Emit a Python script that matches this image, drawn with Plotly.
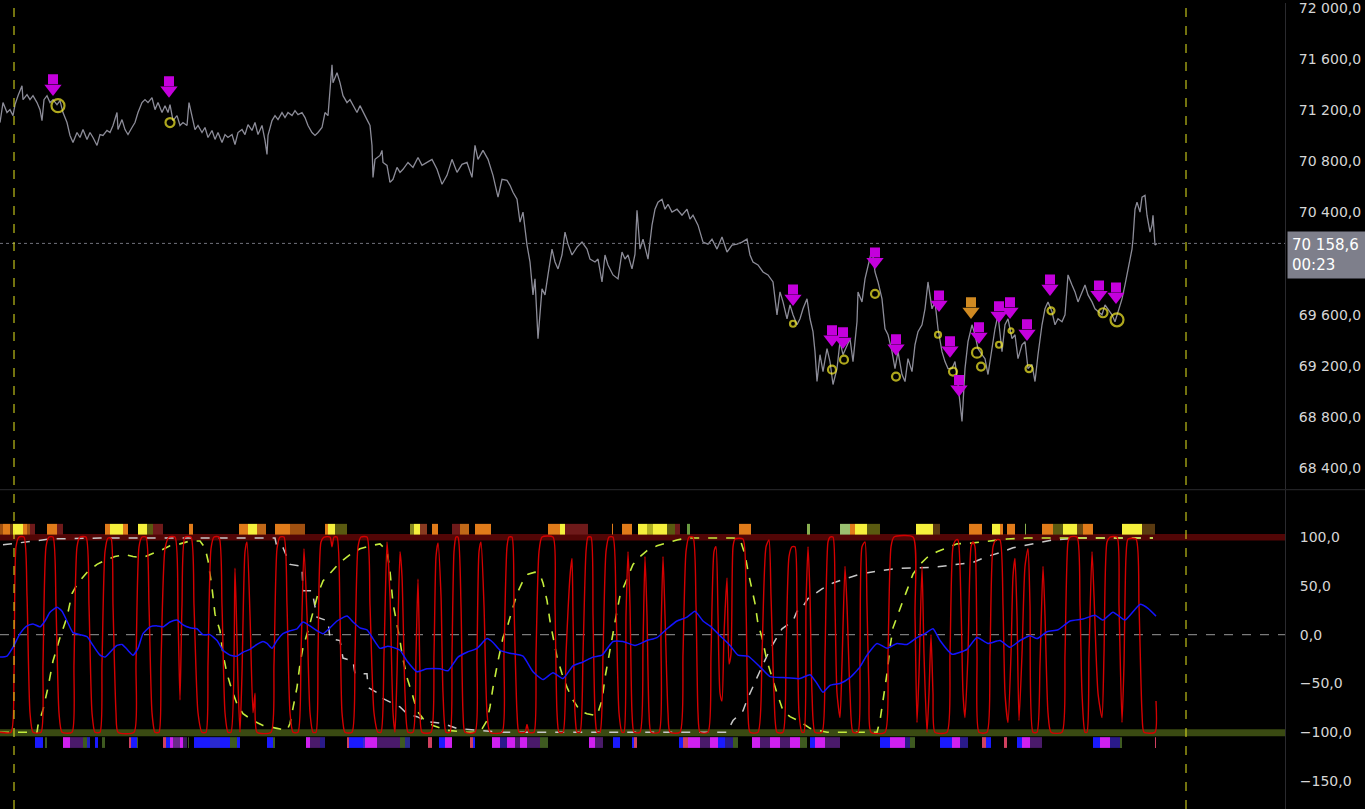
import plotly.graph_objects as go

# ---------------- price panel data ----------------
close_x = [0,3,7,10,13,15,18,22,23,27,30,33,37,40,42,44,47,50,53,57,60,63,67,70,73,77,80,83,87,90,93,97,100,103,107,110,113,117,118,122,125,128,132,135,138,142,145,148,152,155,158,162,165,168,170,173,177,180,183,187,189,192,195,198,202,205,208,212,215,218,222,225,228,232,235,238,242,245,248,252,255,258,262,265,267,268,272,275,278,282,285,288,292,295,298,302,305,308,312,315,318,322,325,328,332,333,337,340,343,347,350,
           357,360,367,370,372,373,375,380,382,383,387,390,393,397,400,403,408,413,418,422,427,432,437,442,447,452,457,462,467,472,475,478,483,488,493,498,502,507,510,513,517,520,523,527,530,533,535,538,542,545,548,552,555,558,562,565,568,572,577,582,587,590,595,598,602,605,608,613,618,622,625,628,632,635,637,640,643,648,652,655,658,662,665,668,672,677,682,687,690,693,698,703,708,712,717,722,727,732,737,742,747,750,753,758,763,768,773,777,780,783,787,790,793,797,800,
           803,807,810,813,815,817,820,823,827,830,833,837,840,843,847,850,853,857,858,862,865,868,872,875,878,882,885,888,892,895,898,902,905,908,912,915,918,922,925,928,932,935,938,942,945,948,952,955,958,962,965,968,972,975,978,982,985,988,992,995,998,1002,1005,1008,1012,1015,1018,1022,1025,1028,1032,1035,1038,1042,1045,1048,1052,1055,1058,1062,1065,1068,1072,1075,1078,1082,1085,1088,1092,1095,1098,1102,1105,1108,1112,1115,1118,1122,1125,1128,1132,1133,
           1135,1137,1140,1142,1145,1147,1148,1150,1152,1153,1155,1157]
close = [71104,71260,71182,71205,71158,71244,71314,71392,71283,71322,
         71283,71314,71260,71205,71119,71283,71314,71260,71283,71244,
         71275,71182,71104,71003,70948,71026,70987,71049,70972,71026,
         70987,70925,71010,71003,71042,71026,71081,71182,71049,71127,
         71049,71010,71065,71104,71182,71260,71283,71260,71299,71205,
         71260,71182,71236,71182,71244,71119,71158,71081,71104,71081,
         71260,71158,71049,71081,71026,71065,70987,71042,70972,71026,
         70948,71010,70987,71010,70932,71026,71049,71010,71088,71042,
         71104,71010,71081,70964,70855,71003,71119,71158,71127,71182,
         71143,71182,71158,71197,71166,71182,71143,71081,71026,71003,
         71026,71065,71182,71158,71556,71416,71494,71416,71314,71260,
         71283,
         71182,71236,71127,71081,70925,70675,70816,70847,70886,70792,
         70769,70636,70660,70753,70714,70738,70792,70753,70831,70769,
         70792,70816,70738,70621,70691,70816,70714,70777,70792,70675,
         70925,70816,70886,70816,70691,70520,70660,70652,70613,70559,
         70504,70325,70403,70146,70013,69756,69881,69413,69803,69756,
         69912,70114,70013,69959,70068,70247,70153,70068,70130,70169,
         70114,70036,70013,70036,69857,70068,69990,69912,69881,70091,
         70036,70068,69959,70075,70418,70114,70192,70036,70301,70426,
         70481,70504,70426,70465,70403,70426,70379,70426,70348,70379,
         70301,70169,70153,70192,70114,70208,70091,70146,70153,70169,
         70192,70068,70013,69990,69935,69912,69857,69600,69779,69701,
         69569,69678,69600,69522,69569,
         69647,69725,69569,69468,69312,69078,69288,69156,69335,69234,
         69055,69179,69390,69288,69366,69413,69234,69546,69779,69701,
         69881,69990,70114,69935,69857,69725,69491,69444,69312,69179,
         69312,69133,69078,69257,69156,69366,69468,69522,69647,69857,
         69647,69701,69491,69312,69234,69179,69179,69234,69055,68766,
         69179,69390,69522,69444,69335,69288,69257,69133,69335,69491,
         69600,69312,69522,69569,69413,69444,69257,69366,69390,69179,
         69211,69078,69288,69522,69647,69701,69624,69522,69569,69546,
         69600,69912,69834,69779,69701,69779,69834,69756,69701,69647,
         69624,69600,69678,69647,69600,69546,69624,69725,69834,69959,
         70114,70192,
         70426,70481,70403,70520,70535,70379,70325,70247,70301,70379,70146,70158.6]
last_price = 70158.6
last_time = "00:23"
price_ticks = [68400, 68800, 69200, 69600, 70400, 70800, 71200, 71600, 72000]
price_range = [68236, 72039]

# signal arrows (x, tip price) and circles (x, price, size)
sig_x = [53, 169, 793, 832, 843, 875, 896, 939, 950, 959, 979, 999, 1010, 1027, 1050, 1099, 1116]
sig_tip = [71314, 71299, 69670, 69351, 69335, 69958, 69281, 69623, 69265, 68961, 69374, 69538, 69569, 69397, 69748, 69701, 69686]
alt_sig_x = [971]
alt_sig_tip = [69569]
ring_x = [58, 170, 793, 832, 844, 875, 896, 938, 953, 977, 981, 999, 1011, 1029, 1051, 1103, 1117]
ring_p = [71236, 71104, 69530, 69171, 69249, 69764, 69117, 69444, 69156, 69304, 69195, 69366, 69475, 69179, 69631, 69616, 69561]
ring_size = [13, 9, 6, 8, 8, 8, 8, 6, 8, 10, 8, 6, 5, 7, 7, 9, 13]

# ---------------- oscillator data ----------------
fast_osc = [(0,-100),(11,-100),(14,-40),(16,90),(19,100),(24,100),(27,40),(30,-80),(33,-100),(41,-100),(43,-30),(46,90),(49,100),(53,100),(56,30),(59,-80),(62,-100),(72,-100),(74,-30),(77,90),(80,100),(86,100),(89,30),(92,-80),(95,-100),(100,-100),(102,-30),(105,85),(108,99),(111,99),(113,30),(116,-80),(118,-100),(134,-100),(136,-30),(139,90),(142,100),(146,100),(149,30),(152,-80),(155,-100),(159,-100),(161,-30),(165,88),(169,100),(175,100),(178,20),(180,-67),(182,30),(185,100),(191,100),(194,30),(198,-80),(202,-100),(206,-100),(208,-30),(211,88),(214,100),(219,100),(222,30),(225,-80),(228,-100),(231,-100),(235,68),(238,-50),(240,-100),(242,-40),(245,85),(247,95),(250,20),(253,-80),(255,-60),(257,-100),(271,-100),(274,-30),(277,88),(280,100),(284,100),(287,30),(290,-80),(293,-100),(298,-100),(301,-20),(304,88),(307,20),(310,-80),(313,-100),(316,-100),(318,-20),(321,95),(324,100),(330,100),(332,90),(334,100),(337,100),(340,20),(342,-80),(345,-100),(352,-100),(355,-20),(358,90),(361,100),(367,100),(370,30),(374,-80),(378,-100),(381,-100),(384,-20),(387,95),(390,40),(393,-80),(395,-100),(397,-40),(400,85),(402,60),(405,-60),(408,-100),
            (413,-100),(416,-20),(418,57),(420,-40),(422,-100),(431,-100),(434,-20),(436,80),(438,94),(441,40),(443,-60),(446,-100),(450,-100),(452,-20),(454,85),(456,100),(458,100),(461,30),(463,-80),(465,-100),(475,-100),(477,-20),(479,85),(481,95),(484,30),(487,-80),(490,-100),(502,-100),(504,-20),(507,90),(509,100),(512,100),(514,30),(517,-80),(519,-100),(525,-100),(527,-92),(529,-100),(534,-100),(536,-20),(539,85),(542,100),(553,100),(555,30),(557,-80),(559,-100),(563,-100),(566,-20),(570,60),(572,78),(573,20),(575,-80),(577,-100),(580,-100),(583,-20),(586,85),(588,100),(591,100),(593,20),(595,-80),(597,-100),(600,-100),(603,-20),(606,85),(609,100),(613,100),(616,30),(619,-80),(622,-100),(624,-100),(626,20),(628,85),(630,30),(632,-80),(634,-100),(640,-100),(643,-10),(645,80),(647,20),(649,-80),(651,-100),(659,-100),(661,0),(663,80),(665,20),(668,-80),(670,-100),(680,-100),(683,-20),(686,85),(689,100),(693,100),(696,30),(698,-80),(700,-100),(708,-100),(711,-20),(714,85),(716,90),(718,20),(720,-60),(722,-68),(724,0),(727,58),(729,-30),(731,-20),(733,90),(735,98),(743,98),(746,30),(748,-80),(750,-100),(758,-100),(762,-20),(766,90),(769,97),(771,40),(774,-60),(777,-100),(783,-100),(786,-20),(789,80),(792,90),(795,90),(797,30),(799,-80),(802,-100),
            (804,-100),(806,30),(808,90),(810,40),(812,-60),(815,-100),(822,-100),(825,-20),(828,95),(830,100),(833,100),(835,30),(837,-60),(840,-85),(842,-30),(845,70),(847,30),(850,-60),(853,-100),(858,-100),(860,-20),(862,90),(865,95),(867,30),(869,-60),(871,-100),(885,-100),(888,-20),(891,90),(894,100),(913,100),(915,20),(917,-90),(919,-40),(922,70),(924,-20),(927,-100),(929,-60),(931,0),(933,-60),(935,-100),(947,-100),(950,-20),(953,90),(956,97),(958,97),(961,30),(963,-60),(965,-85),(968,-20),(971,90),(973,95),(975,90),(977,-20),(979,-100),(987,-100),(990,-20),(993,90),(996,97),(1000,97),(1003,30),(1005,-60),(1008,-90),(1011,-20),(1013,60),(1015,78),(1017,20),(1019,-88),(1022,-20),(1025,70),(1028,88),(1030,30),(1033,-100),(1037,-100),(1040,-30),(1043,70),(1045,20),(1048,-80),(1051,-100),(1062,-100),(1065,-20),(1068,95),(1070,100),(1077,100),(1080,30),(1082,-60),(1085,-100),(1087,-100),(1089,-20),(1092,85),(1094,40),(1098,-60),(1102,-85),(1104,-20),(1107,95),(1110,100),(1117,100),(1119,30),(1122,-90),(1124,-30),(1126,80),(1128,98),(1136,98),(1139,30),(1142,-80),(1144,-100),(1155,-100),(1156,-68)]

trend_osc = [(0,-23),(7,-22),(13,-13),(20,1),(27,9),(33,11),(40,8),(45,14),(50,23),(57,28),(62,24),(67,14),(73,2),(80,0),(87,-2),(93,-11),(100,-21),(105,-23),(110,-18),(117,-11),(122,-10),(127,-15),(133,-21),(138,-14),(143,1),(150,8),(157,9),(163,8),(170,13),(177,15),(183,10),(190,7),(197,6),(203,0),(210,0),(217,-6),(223,-16),(230,-21),(237,-22),(243,-18),(250,-15),(257,-10),(263,-7),(267,-9),(272,-14),(277,-6),(283,1),(290,4),(297,6),(303,13),(310,9),(317,4),(323,1),(330,7),(337,14),(347,19),(353,13),(360,7),(367,5),(373,-4),(380,-14),(387,-12),(393,-13),(400,-16),
             (407,-27),(417,-38),(427,-35),(440,-35),(448,-37),(458,-23),(467,-18),(477,-14),(487,-4),(493,-8),(500,-16),(510,-19),(523,-22),(533,-38),(543,-46),(553,-39),(563,-45),(573,-32),(583,-28),(593,-23),(602,-21),(613,-7),(623,-7),(635,-11),(647,-6),(657,-3),(667,6),(677,14),(687,18),(695,24),(703,14),(710,9),(720,-1),(730,-11),(738,-21),(748,-22),(760,-33),(770,-43),(783,-44),(800,-45),
             (810,-41),(817,-50),(823,-59),(830,-52),(840,-50),(850,-44),(860,-33),(867,-21),(877,-9),(887,-14),(897,-9),(907,-10),(917,-3),(925,1),(933,6),(940,-6),(952,-20),(960,-18),(967,-15),(977,-3),(988,-9),(1000,-6),(1010,-13),(1020,-6),(1030,-1),(1037,-4),(1047,3),(1058,5),(1070,14),(1083,16),(1095,20),(1103,15),(1113,23),(1125,15),(1140,31),(1148,27),(1156,19)]

slow_osc = [(0,-100),(37,-100),(38,-93),(43,-77),(48,-54),(53,-27),(60,-3),(67,18),(72,42),(78,53),(88,65),(97,72),(105,76),(115,80),(125,82),(133,80),(143,79),(153,83),(162,87),(170,91),(180,93),(190,96),(200,96),(205,89),(208,76),(212,48),(215,21),(220,4),(223,-20),(227,-40),(232,-57),(237,-71),(243,-81),(253,-88),(263,-93),(277,-96),(287,-98),(290,-91),(293,-74),(297,-54),(300,-30),(303,-13),(308,4),(313,24),(318,42),(323,55),(332,65),(340,74),(350,82),(360,88),(370,91),(380,93),(387,86),(390,65),(393,32),(397,11),(400,-6),
            (402,-20),(407,-44),(412,-60),(417,-78),(423,-86),(433,-93),(447,-98),(467,-100),(480,-100),(487,-88),(490,-74),(493,-54),(498,-27),(503,-3),(507,7),(512,24),(517,42),(522,53),(528,62),(535,64),(540,62),(543,53),(547,35),(550,14),(553,-3),(557,-23),(562,-40),(567,-54),(573,-67),(580,-78),(587,-81),(597,-83),(602,-67),(605,-44),(608,-27),(612,-3),(617,24),(620,40),(627,57),(633,72),(640,80),(647,86),(657,91),(667,94),(677,97),(687,99),(700,99),(717,99),(733,99),(740,98),(745,82),(748,65),(752,48),(755,32),(758,11),(762,-3),(767,-27),(772,-44),(777,-60),(783,-78),(790,-84),(800,-89),
            (810,-96),(827,-100),(850,-100),(877,-100),(880,-88),(883,-67),(887,-40),(890,-13),(893,7),(898,21),(903,35),(908,48),(913,62),(920,72),(927,79),(937,85),(947,89),(957,93),(973,94),(990,96),(1007,98),(1027,99),(1050,99),(1083,99),(1117,99),(1153,99)]

long_osc = [(3,92),(10,93),(27,95),(50,98),(100,99),(275,99),(277,89),(283,89),(290,72),(302,70),(303,45),(312,45),(317,18),(328,14),(330,-4),(340,-6),(343,-24),(353,-27),(355,-40),(367,-40),(368,-54),(378,-60),(380,-64),(390,-69),(400,-74),
            (407,-81),(417,-84),(427,-89),(443,-91),(457,-96),(480,-98),(500,-100),(727,-100),(733,-88),(743,-78),(747,-67),(757,-44),(770,-15),(782,6),(793,14),(797,24),(800,24),
            (808,37),(822,47),(833,53),(847,58),(860,62),(883,66),(900,68),(933,69),(960,72),(973,74),(987,80),(1000,84),(1013,89),(1033,93),(1053,97),(1077,99),(1100,99),(1153,99)]

top_strip = [(0,3,'#a05010'),(3,10,'#e07b1a'),(10,13,'#6a3a10'),(13,23,'#f5f03c'),(23,27,'#e07b1a'),(27,30,'#a05010'),(30,35,'#6e1a1a'),
             (47,57,'#e07b1a'),(57,63,'#6e1a1a'),(105,110,'#e07b1a'),(110,123,'#f5f03c'),(123,128,'#e07b1a'),
             (138,147,'#f5f03c'),(147,153,'#5a5a10'),(153,163,'#6e1a1a'),(189,193,'#e07b1a'),
             (239,248,'#e07b1a'),(248,257,'#f5f03c'),(257,266,'#c06818'),(275,290,'#e07b1a'),(290,305,'#a05010'),
             (325,328,'#e07b1a'),(328,335,'#f5f03c'),(335,347,'#5a5a10'),
             (410,414,'#8a8a20'),(414,420,'#f5f03c'),(420,427,'#8a3a20'),(432,438,'#e07b1a'),(452,460,'#6e1a1a'),(460,469,'#c06818'),(475,491,'#e07b1a'),
             (548,560,'#e07b1a'),(560,565,'#f5f03c'),(565,588,'#6e1a1a'),(612,613,'#e07b1a'),(622,632,'#e07b1a'),(638,647,'#f5f03c'),(647,653,'#b0b020'),(653,667,'#f5f03c'),(667,675,'#5a5a10'),(675,680,'#6e1a1a'),(687,690,'#6a9a40'),(739,751,'#e07b1a'),
             (807,810,'#8ab050'),(840,850,'#9ac070'),(850,855,'#e07b1a'),(855,867,'#f5f03c'),(867,880,'#5a5a10'),(916,933,'#f5f03c'),(933,940,'#5a3a10'),(969,982,'#e07b1a'),(992,1000,'#f5f03c'),(1000,1003,'#e07b1a'),(1007,1015,'#e07b1a'),(1025,1026,'#8ab050'),(1042,1053,'#e07b1a'),(1053,1063,'#5a5a10'),(1063,1077,'#f5f03c'),(1077,1083,'#6a4a10'),(1083,1093,'#e07b1a'),(1122,1142,'#f5f03c'),(1142,1155,'#5a3a10')]

bottom_strip = [(35,43,'#1a1aff'),(45,47,'#3e5a20'),(63,70,'#d020f0'),(70,83,'#4a1a6a'),(83,87,'#3e5a20'),(87,90,'#2020c0'),(95,98,'#1a1aff'),(102,105,'#3e5a20'),(129,131,'#d04060'),(131,137,'#1a1aff'),(137,138,'#3e5a20'),(163,166,'#d04060'),(166,170,'#1a1aff'),(170,173,'#d020f0'),(173,180,'#6a2a8a'),(180,183,'#d020f0'),(183,187,'#3a1a5a'),(188,189,'#3e5a20'),(194,210,'#1a1aff'),(210,220,'#2a2ad0'),(220,230,'#1a1aff'),(230,237,'#3e5a20'),(237,240,'#1a1aff'),(267,273,'#1a1aff'),(273,275,'#3e5a20'),(306,310,'#d020f0'),(310,320,'#4a1a6a'),(320,325,'#2a1a8a'),(347,349,'#d04060'),(349,363,'#1a1aff'),(363,365,'#3a2ad0'),(365,377,'#d020f0'),(377,400,'#4a1a6a'),
                (400,405,'#3e5a20'),(405,410,'#2a2a8a'),(428,432,'#d04060'),(439,445,'#1a1aff'),(445,452,'#d020f0'),(470,473,'#d04060'),(473,475,'#1a1aff'),(492,500,'#d020f0'),(500,507,'#2a1a8a'),(507,515,'#d020f0'),(515,520,'#4a1a6a'),(520,527,'#d020f0'),(527,540,'#4a1a6a'),(540,548,'#3e5a20'),(589,595,'#d020f0'),(595,603,'#4a1a6a'),(613,620,'#1a1aff'),(632,634,'#1a1aff'),(634,637,'#d04060'),(679,683,'#1a1aff'),(683,688,'#d04060'),(688,700,'#d020f0'),(700,710,'#4a1a6a'),(710,718,'#d020f0'),(718,725,'#1a1aff'),(725,733,'#2a1a8a'),(733,738,'#3e5a20'),(752,760,'#d020f0'),(760,770,'#4a1a6a'),(770,780,'#d020f0'),(780,790,'#4a1a6a'),(790,800,'#d020f0'),
                (800,807,'#3e5a20'),(810,815,'#1a1aff'),(815,825,'#d020f0'),(825,840,'#4a1a6a'),(880,890,'#1a1aff'),(890,905,'#d020f0'),(905,910,'#2a1a8a'),(910,915,'#3e5a20'),(940,952,'#1a1aff'),(952,960,'#d020f0'),(960,968,'#2a1a8a'),(982,986,'#d04060'),(986,991,'#1a1aff'),(1004,1007,'#d04060'),(1017,1022,'#1a1aff'),(1022,1030,'#d020f0'),(1030,1042,'#4a1a6a'),(1093,1100,'#1a1aff'),(1100,1110,'#d020f0'),(1110,1120,'#2a1a8a'),(1120,1122,'#3e5a20'),(1155,1156,'#d04060')]

osc_ticks = [-150, -100, -50, 0, 50, 100]
osc_range = [-178.6, 148]
session_marks = [14, 1186]

# ---------------- figure ----------------
W, H = 1365, 809
plot_w = 1285
top_px = 488
XR = plot_w / W  # paper fraction where the price scale begins
FONT = "DejaVu Sans"
MAGENTA = "#c400dc"
ORANGE = "#d08a22"
fig = go.Figure()

fig.add_trace(go.Scatter(x=close_x, y=close, mode="lines", line=dict(color="#8c8c98", width=1.3),
                         xaxis="x", yaxis="y", hoverinfo="skip"))
fig.add_trace(go.Scatter(x=ring_x, y=ring_p, mode="markers", xaxis="x", yaxis="y",
                         marker=dict(symbol="circle-open", size=ring_size, color="#f8ee2a",
                                     line=dict(width=2.2, color="#f8ee2a"))))

unit_per_px = (price_range[1] - price_range[0]) / top_px

def add_arrows(xs, tips, color):
    head_y = [p + 7.3 * unit_per_px for p in tips]
    stem_y = [p + 16.5 * unit_per_px for p in tips]
    fig.add_trace(go.Scatter(x=xs, y=stem_y, mode="markers", xaxis="x", yaxis="y", hoverinfo="skip",
                             marker=dict(symbol="square", size=10, color=color, line=dict(width=0))))
    fig.add_trace(go.Scatter(x=xs, y=head_y, mode="markers", xaxis="x", yaxis="y", hoverinfo="skip",
                             marker=dict(symbol="triangle-down", size=15, color=color, line=dict(width=0))))

add_arrows(sig_x, sig_tip, MAGENTA)
add_arrows(alt_sig_x, alt_sig_tip, ORANGE)

def unzip(pts):
    return [p[0] for p in pts], [p[1] for p in pts]

def strip_bar(segs, base, height):
    xs = [(a + b) / 2 for a, b, c in segs]
    ws = [max(b - a, 1) for a, b, c in segs]
    cs = [c for a, b, c in segs]
    return go.Bar(x=xs, y=[height] * len(segs), base=base, width=ws, marker=dict(color=cs, line=dict(width=0)),
                  xaxis="x2", yaxis="y2", hoverinfo="skip")

fig.add_trace(strip_bar(top_strip, 102.5, 11))
fig.add_trace(strip_bar(bottom_strip, -116, 11))

lx, lv = unzip(long_osc)
fig.add_trace(go.Scatter(x=lx, y=lv, mode="lines", line=dict(color="#c8c8c8", width=1.5, dash="dash"), xaxis="x2", yaxis="y2"))
sx, sv = unzip(slow_osc)
fig.add_trace(go.Scatter(x=sx, y=sv, mode="lines", line=dict(color="#c4ec3c", width=1.6, dash="dash"), xaxis="x2", yaxis="y2"))
fx, fv = unzip(fast_osc)
fig.add_trace(go.Scatter(x=fx, y=fv, mode="lines", line=dict(color="#d40000", width=1.4, shape="spline", smoothing=0.6), xaxis="x2", yaxis="y2"))
tx, tv = unzip(trend_osc)
fig.add_trace(go.Scatter(x=tx, y=tv, mode="lines", line=dict(color="#1414ff", width=1.5, shape="spline", smoothing=0.5), xaxis="x2", yaxis="y2"))

top_dom = [1 - top_px / H, 1]
bot_dom = [0, 1 - (top_px + 1) / H]
xdom = [0, XR]

axis_font = dict(family=FONT, size=14, color="#d6d6d6")
fig.update_layout(
    width=W, height=H, showlegend=False, barmode="overlay",
    paper_bgcolor="#000000", plot_bgcolor="#000000",
    margin=dict(l=0, r=0, t=0, b=0),
    separators=", ",
    font=dict(family=FONT, color="#d6d6d6"),
    xaxis=dict(domain=xdom, range=[0, plot_w], anchor="y", showgrid=False, zeroline=False,
               showticklabels=False, showline=False),
    xaxis2=dict(domain=xdom, range=[0, plot_w], anchor="y2", matches="x", showgrid=False, zeroline=False,
                showticklabels=False, showline=False),
    yaxis=dict(domain=top_dom, range=price_range, side="right", anchor="x", tickvals=price_ticks,
               tickformat=",.1f", showgrid=False, zeroline=False, showline=True, linecolor="#2a2a2e",
               ticks="", ticklabelstandoff=10, ticklabeloverflow="allow", tickfont=axis_font),
    yaxis2=dict(domain=bot_dom, range=osc_range, side="right", anchor="x2", tickvals=osc_ticks,
                tickformat=",.1f", showgrid=False, zeroline=False, showline=True, linecolor="#2a2a2e",
                ticks="", ticklabelstandoff=11, ticklabeloverflow="allow", tickfont=axis_font),
)

shapes = []
shapes.append(dict(type="line", xref="paper", yref="paper", x0=0, x1=1, y0=1 - (top_px + 0.5) / H,
                   y1=1 - (top_px + 0.5) / H, line=dict(color="#2a2a2e", width=1)))
shapes.append(dict(type="rect", xref="paper", yref="y2", x0=0, x1=XR, y0=96.5, y1=103, fillcolor="#520606",
                   line=dict(width=0), layer="below"))
shapes.append(dict(type="rect", xref="paper", yref="y2", x0=0, x1=XR, y0=-104, y1=-97, fillcolor="#3a4a12",
                   line=dict(width=0), layer="below"))
shapes.append(dict(type="line", xref="paper", yref="y2", x0=0, x1=XR, y0=0, y1=0,
                   line=dict(color="#7a7a7a", width=1.2, dash="dash"), layer="below"))
shapes.append(dict(type="line", xref="paper", yref="y", x0=0, x1=XR, y0=last_price, y1=last_price,
                   line=dict(color="#70727c", width=1, dash="dot")))
for sx_ in session_marks:
    shapes.append(dict(type="line", xref="x", yref="paper", x0=sx_, x1=sx_, y0=0, y1=1,
                       line=dict(color="#e6e61e", width=1, dash="dash")))
fig.update_layout(shapes=shapes)

tag_text = f"{last_price:,.1f}".replace(",", " ").replace(".", ",") + "<br>" + last_time
fig.update_layout(annotations=[dict(x=XR, y=last_price, xref="paper", yref="y", xanchor="left", yanchor="top",
                                    xshift=2, yshift=12, text=tag_text, showarrow=False, align="left",
                                    bgcolor="#7e7f8b", borderpad=4, width=70,
                                    font=dict(family=FONT, size=15, color="#ffffff"))])

fig.write_html("out.html", config={"displayModeBar": False},
               post_script="document.body.style.margin='0';document.body.style.background='#000';")
